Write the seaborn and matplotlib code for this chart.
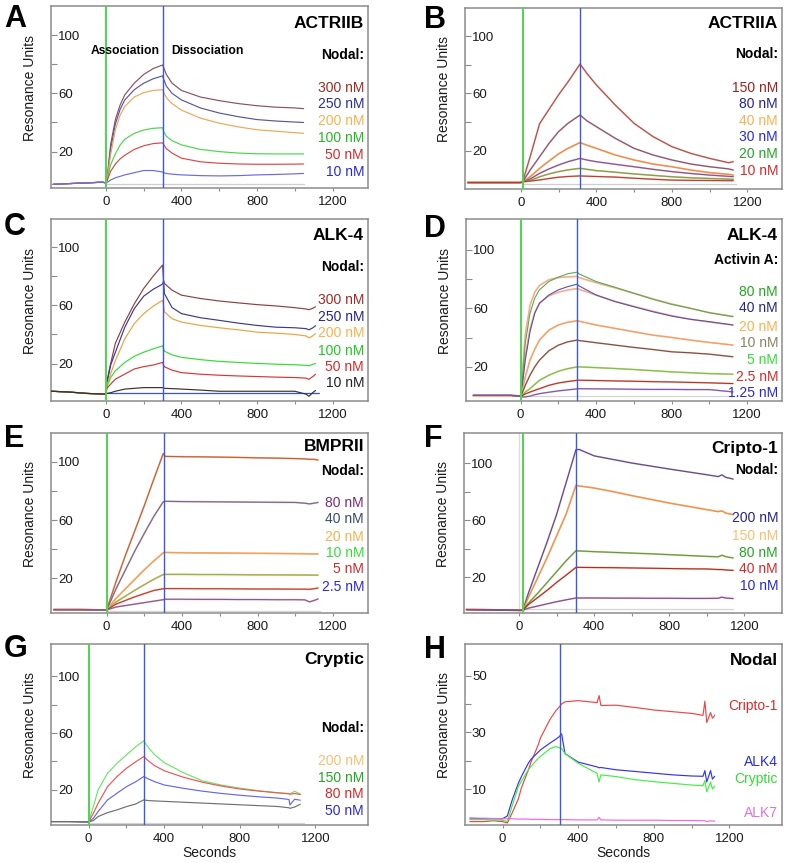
import numpy as np
import pandas as pd
import matplotlib
matplotlib.use("Agg")
import matplotlib.pyplot as plt
import seaborn as sns
from matplotlib.ticker import FixedLocator, FixedFormatter

sns.set_theme(style="white")
plt.rcParams['font.family'] = ['Liberation Sans', 'DejaVu Sans']

# ---------------- DATA ----------------
# Panel A : ACTRIIB, Nodal
A_t = [-280, -200, -100, -20, 0, 8, 25, 50, 75, 100, 150, 200, 250, 300, 305, 320, 350, 400, 500, 600, 700, 800, 900, 1000, 1047]
A_conc = ['300 nM', '250 nM', '200 nM', '100 nM', '50 nM', '10 nM']
A_300 = [-2.5, -2, -1.5, -1, -1.5, 4, 25, 42, 52, 59, 67, 73, 77, 79.5, 78, 73, 67, 62, 57.5, 55, 53, 51.5, 50.5, 50, 49.5]
A_250 = [-2.5, -2, -1.5, -1, -1.5, 3, 22, 39, 49, 55.5, 62.5, 67, 70, 72, 70, 65, 60, 55.5, 50, 46.5, 44, 42, 41, 40.3, 40]
A_200 = [-2.5, -2, -1.5, -1, -1.5, 2.5, 18, 35, 45, 51, 57.5, 60.5, 62, 62.5, 61, 57, 53, 48.5, 43, 39.5, 37, 35, 34, 33, 32.6]
A_100 = [-2.5, -2, -1.5, -1, -1.5, 1.5, 11, 18.5, 24.5, 28.5, 32.5, 34.8, 36, 36.4, 34, 30.5, 27.5, 24.6, 21.5, 20, 19, 18.5, 18.4, 18.4, 18.4]
A_50 = [-2.5, -2, -1.5, -1, -1.5, 0.5, 6.5, 11.5, 15, 17.5, 21.5, 24, 25.5, 26, 25, 22, 19, 15.5, 13, 12, 11.5, 11.3, 11.3, 11.4, 11.5]
A_10 = [-2.5, -2, -1.5, -1, -1.5, -1, 0.5, 2, 3, 4, 5.5, 7, 7, 6, 5.5, 5, 4.5, 4, 3.5, 3.3, 3.5, 4, 4.3, 4.7, 5]
A_ref_t = [0, 1047]
A_ref = [-2.5, -2.5]
A_inject = [0, 300]

# Panel B : ACTRIIA, Nodal
B_t = [-280, -200, -100, 0, 10, 50, 100, 150, 200, 250, 314, 350, 400, 500, 600, 700, 800, 900, 1000, 1100, 1125]
B_conc = ['150 nM', '80 nM', '40 nM', '30 nM', '20 nM', '10 nM']
B_150 = [-2, -2, -2, -2, -1.5, 16, 39, 49, 59, 68, 80.5, 74, 66, 52, 39.2, 30, 23, 18.3, 14.8, 11.8, 12.5]
B_80 = [-2, -2, -2, -2, -1.5, 6.7, 16, 25.3, 33.4, 39.2, 45, 41, 36.9, 28.8, 21.8, 17.2, 13.7, 10.9, 9, 7.5, 6.7]
B_40 = [-2, -2, -2, -2, -1.5, 2, 7.9, 13, 17.9, 21.8, 25.8, 24, 21.8, 17.2, 13.7, 10.9, 9, 6.7, 4.9, 3.7, 3.2]
B_30 = [-2, -2, -2, -2, -1.5, 0.5, 4.4, 7.5, 10.2, 12.5, 14.8, 13.7, 12.5, 10.7, 9, 7.2, 5.6, 4.3, 3.2, 2.3, 2.1]
B_20 = [-2, -2, -2, -2, -1.5, -0.5, 2, 4, 5.6, 6.8, 7.9, 7.2, 6.3, 5.2, 4, 3, 2, 1.3, 0.8, 0.4, 0.2]
B_10 = [-2, -2, -2, -2, -1.5, -1, -0.2, 0.8, 1.7, 2.2, 2.6, 2.4, 2.2, 1.8, 1, 0.3, -0.3, -0.5, -0.6, -0.7, -0.7]
B_ref_t = [10, 1140]
B_ref = [-3, -3]
B_inject = [10, 314]

# Panel C : ALK-4, Nodal
C_t = [-290, -200, -100, 0, 5, 25, 50, 100, 150, 200, 250, 300, 305, 310, 350, 400, 500, 600, 700, 800, 900, 1000, 1060, 1075, 1095, 1110]
C_conc = ['300 nM', '250 nM', '200 nM', '100 nM', '50 nM', '10 nM']
C_300 = [1, 0.5, -0.5, -1, 8, 20, 34, 48.5, 61, 71.6, 80, 87.7, 77, 75, 70.4, 67, 64.7, 63, 61.7, 60.5, 59.6, 58.4, 57.5, 57, 58, 59]
C_250 = [1, 0.5, -0.5, -1, 6, 19, 27.8, 45, 57.7, 66.3, 71, 74.6, 77, 68, 58.5, 54.3, 51.5, 49.7, 47.8, 46.2, 45, 44.6, 44, 43.2, 44.5, 46]
C_200 = [1, 0.5, -0.5, -1, 5, 13, 22, 37, 47.4, 54.3, 59.4, 63.5, 60, 55.5, 50.8, 48.5, 46.2, 44.6, 43.2, 41.6, 40.9, 40, 39, 37.6, 39, 40.5]
C_100 = [1, 0.5, -0.5, -1, 4, 10.4, 15, 20.8, 25, 27.8, 30.1, 32.2, 30, 28.5, 26, 24.3, 22.7, 21.5, 20.8, 20.1, 19.6, 19.2, 18.8, 18.5, 19.5, 20]
C_50 = [1, 0.5, -0.5, -1, 3, 5.9, 9.3, 12.8, 16.3, 17.9, 19, 20.8, 19, 17.8, 15.5, 13.8, 12.7, 12, 11.5, 11.1, 10.7, 10.4, 10, 9.2, 11, 12.7]
C_10 = [1, 0.5, -0.5, -1, -0.5, 0, 1, 2.5, 3, 3.5, 3.5, 3.5, 3.3, 3, 2.8, 2.5, 1.8, 1, 1, 1, 1, 1, -1, -2.5, 0, 1.5]
C_ref_t = [0, 1130]
C_ref = [-0.5, -0.5]
C_inject = [0, 300]

# Panel D : ALK-4, Activin A
D_t = [-250, -150, -50, 0, 10, 25, 50, 75, 100, 150, 200, 250, 300, 310, 400, 500, 600, 700, 800, 900, 1000, 1125]
D_conc = ['80 nM', '40 nM', '20 nM', '10 nM', '5 nM', '2.5 nM', '1.25 nM']
D_80 = [0.5, 0.5, 0.5, 0, 12, 36, 56.6, 66.9, 72.6, 78.3, 81.3, 83.6, 84.7, 83.5, 78.3, 74.4, 70.3, 66.2, 62.7, 60, 57, 54.3]
D_40 = [0.5, 0.5, 0.5, 0, 8, 24.6, 44, 56.6, 63.4, 69.1, 72.6, 74.8, 76.5, 75.3, 69.1, 64.6, 61.1, 57.7, 54.7, 52.5, 50.9, 48.6]
D_20 = [0.5, 0.5, 0.5, 0, 4, 13.1, 24.6, 32, 38.3, 45.1, 48.6, 50.5, 51.5, 51.2, 48.6, 46.3, 44, 41.7, 40.1, 38.3, 36.7, 34.9]
D_10 = [0.5, 0.5, 0.5, 0, 2.5, 7.4, 14.3, 20, 24.6, 31, 34.8, 37.1, 38.3, 38, 36.5, 34.9, 33.3, 31.9, 30.3, 29.6, 28.7, 26.9]
D_5 = [0.5, 0.5, 0.5, 0, 1, 2.8, 5.1, 8, 10.8, 14.3, 17, 18.8, 20, 20, 19.5, 18.9, 18.2, 17.4, 16.6, 16, 15.4, 15]
D_2p5 = [0.5, 0.5, 0.5, 0, 0.5, 1.5, 2.8, 4, 5.1, 7.4, 9, 10, 10.8, 10.9, 10.7, 10.4, 10.2, 9.9, 9.7, 9.4, 9.1, 8.6]
D_1p25 = [0.5, 0.5, 0.5, 0, -0.5, -0.5, 0, 1, 1.7, 2.7, 3.6, 4.3, 5, 5.1, 5, 4.9, 4.7, 4.6, 4.6, 4.5, 4.5, 2.9]
D_fit80 = [0.5, 0.5, 0.5, 0, 18, 42, 62, 71, 75.5, 79.5, 81, 81.5, 81.8, 81, 77.5, 74, 70.3, 66.5, 63, 60, 57, 54.5]
D_fit40 = [0.5, 0.5, 0.5, 0, 10, 27, 46, 57, 63.5, 68.5, 71, 72.5, 73.5, 73, 69, 64.8, 61.3, 58, 55, 52.5, 50.6, 48.6]
D_ref_t = [0, 1130]
D_ref = [0, 0]
D_inject = [0, 300]

# Panel E : BMPRII, Nodal
E_t = [-280, -150, -50, 0, 50, 100, 150, 200, 250, 300, 310, 400, 500, 600, 700, 800, 900, 1000, 1050, 1075, 1100, 1120]
E_conc = ['80 nM', '40 nM', '20 nM', '10 nM', '5 nM', '2.5 nM']
E_80 = [-1.3, -1.3, -1.5, -1.5, 18, 36, 53, 70, 88, 105.5, 103.5, 103.3, 103.2, 103, 102.8, 102.5, 102.3, 102, 101.8, 101.5, 101.5, 101]
E_40 = [-1.3, -1.3, -1.5, -1.5, 13, 26, 39, 51, 62.5, 72.5, 72.8, 72.6, 72.5, 72.4, 72.3, 72.2, 72.1, 72, 71.5, 71, 71.5, 72]
E_20 = [-1.3, -1.3, -1.5, -1.5, 6.5, 13, 19.5, 26, 32, 37.6, 37.8, 37.6, 37.5, 37.4, 37.3, 37.2, 37.1, 37, 36.9, 36.8, 36.8, 36.8]
E_10 = [-1.3, -1.3, -1.5, -1.5, 4, 8, 12, 15.8, 19.5, 22.7, 22.8, 22.8, 22.7, 22.7, 22.6, 22.5, 22.5, 22.4, 22.4, 22.3, 22.3, 22.3]
E_5 = [-1.3, -1.3, -1.5, -1.5, 2.5, 5, 7.5, 9.7, 11.8, 13, 13.1, 13.1, 13, 13, 12.9, 12.8, 12.8, 12.7, 12.7, 12.6, 13, 13.5]
E_2p5 = [-1.3, -1.3, -1.5, -1.5, 0.5, 1.5, 2.5, 3.5, 4.5, 5.5, 5.8, 5.8, 5.7, 5.7, 5.6, 5.6, 5.5, 5.5, 5.4, 4, 5, 6]
E_ref_t = [0, 1130]
E_ref = [-2, -2]
E_inject = [0, 305]

# Panel F : Cripto-1, Nodal
F_t = [-280, -150, 0, 20, 50, 100, 150, 200, 250, 303, 320, 400, 500, 600, 700, 800, 900, 1000, 1060, 1080, 1100, 1140]
F_conc = ['200 nM', '150 nM', '80 nM', '40 nM', '10 nM']
F_200 = [-2.5, -2.7, -3, -3, 9, 27, 45, 64, 86, 109.3, 109.5, 105, 102.5, 100, 97.9, 95.8, 93.8, 91.8, 90.5, 91.7, 90, 88.8]
F_150 = [-2.5, -2.7, -3, -3, 6, 20, 34, 49, 64, 84.4, 84, 82.5, 80, 77.2, 74.6, 72, 69.7, 67.4, 66, 66.5, 65, 63.9]
F_80 = [-2.5, -2.7, -3, -3, 2, 9, 16.5, 24, 31.5, 38.7, 38.5, 38, 37.5, 37, 36.5, 35.9, 35.3, 34.7, 34.4, 35.5, 34.5, 33.6]
F_40 = [-2.5, -2.7, -3, -3, 1, 6, 11, 16.5, 21.5, 27, 27, 26.9, 26.8, 26.6, 26.4, 26.2, 26, 25.9, 25.5, 25.5, 25.2, 24.9]
F_10 = [-2.5, -2.7, -3, -3, -1.5, 0, 1.5, 3, 4.3, 5.6, 5.6, 5.6, 5.5, 5.5, 5.4, 5.4, 5.3, 5.3, 5.4, 6.2, 5.6, 5.2]
F_ref_t = [0, 1140]
F_ref = [-2, -2]
F_inject = [22, 303]
F_zero = 0

# Panel G : Cryptic, Nodal
G_t = [-200, -100, 0, 25, 50, 100, 150, 200, 250, 291, 320, 350, 400, 500, 600, 700, 800, 900, 1000, 1060, 1065, 1090, 1120]
G_conc = ['200 nM', '150 nM', '80 nM', '50 nM']
G_trace_names = ['trace 1', 'trace 2', 'trace 3', 'trace 4']
G_tr1 = [-2.2, -2.2, -2.5, 8.3, 20, 31.7, 38.7, 44.6, 50.4, 54.4, 49.2, 44.6, 39.2, 32.2, 26.5, 23.5, 21.3, 19.5, 18, 17.5, 17.3, 19, 17.2]
G_tr2 = [-2.2, -2.2, -2.5, 3.6, 10.6, 22.3, 29.4, 35.2, 39.9, 43.4, 40, 37, 33.5, 29, 25.5, 22.8, 20.7, 19.2, 18, 17.3, 17, 17.5, 16.8]
G_tr3 = [-2.2, -2.2, -2.5, 0.1, 4.8, 13, 17.7, 22.3, 25.8, 29.4, 27.5, 25.8, 23.5, 21.2, 19.2, 17.6, 16.3, 15.2, 14.3, 13.3, 9.5, 13.5, 12.8]
G_tr4 = [-2.2, -2.2, -2.5, -1.5, 1.3, 4.1, 6, 8.3, 10.2, 13, 12.5, 12.3, 12, 11.4, 10.8, 10.2, 9.6, 9, 8.4, 7.5, 7.1, 8, 10]
G_ref_t = [0, 1140]
G_ref = [-3, -3]
G_inject = [0, 291]

# Panel H : Nodal on different receptors
H_t = [-173, -100, -50, 0, 25, 50, 83, 100, 135, 150, 188, 200, 250, 280, 300, 312, 330, 400, 500, 510, 520, 600, 700, 800, 900, 1000, 1060, 1070, 1080, 1100, 1110, 1122]
H_names = ['Cripto-1', 'ALK4', 'Cryptic', 'ALK7']
H_cripto = [-1.5, -1.5, -1.2, -1.5, -2, 1.5, 6.5, 10.5, 16.5, 19.5, 25.5, 28, 34.5, 37.5, 39, 40, 40.8, 41.2, 40.5, 43, 39.5, 39.6, 38.8, 37.9, 37.3, 36.7, 36, 41, 33.5, 37, 35, 36]
H_alk4 = [-0.3, -0.5, -0.5, -0.5, 0.5, 6, 12, 14.5, 19, 20.5, 23, 23.8, 26.2, 27.5, 28.5, 29.5, 22.5, 19.5, 17.8, 17.5, 17.6, 16.8, 16.2, 15.6, 15, 14.6, 14.5, 16.5, 12.5, 16.5, 13.5, 14.5]
H_cryptic = [-0.8, -0.8, -1, -1, -1.5, 4, 10.8, 12.8, 16.7, 18, 20.8, 21.5, 24.2, 25, 24.6, 24.3, 22.5, 19.1, 15.5, 12.5, 15, 14.4, 13.3, 12.6, 12, 11.4, 11.2, 13, 9, 12.5, 10, 11]
H_alk7 = [-0.3, -0.3, -0.4, -0.5, -0.5, -0.5, -0.6, -0.6, -0.6, -0.7, -0.7, -0.7, -0.8, -0.8, -0.8, -0.8, -0.8, -0.9, -0.9, 0, -0.9, -1, -1, -1, -1.1, -1.1, -1.2, -1.2, -1.5, -1.2, -1.3, -1.3]
H_inject = [303]

# ---------------- FIGURE ----------------
W, H = 785, 863
fig = plt.figure(figsize=(W / 100, H / 100), dpi=100)

GREEN_LINE = '#4cd64c'
BLUE_LINE = '#3a58e0'
FRAME = '#8c8c8c'
TXT = '#1a1a1a'
FIT = '#f3a070'


def add_axes(left, top, right, bottom):
    return fig.add_axes([left / W, 1 - bottom / H, (right - left) / W, (bottom - top) / H])


def ftext(x, y, s, **kw):
    fig.text(x / W, 1 - y / H, s, **kw)


def long_df(t, names, values):
    parts = [pd.DataFrame({'t': t, 'v': vals, 'series': n}) for n, vals in zip(names, values)]
    return pd.concat(parts, ignore_index=True)


def draw_curves(ax, t, names, values, colors, lw=0.85, alpha=1.0, z=3):
    df = long_df(t, names, values)
    sns.lineplot(data=df, x='t', y='v', hue='series', hue_order=names,
                 palette=dict(zip(names, colors)), estimator=None, sort=False,
                 legend=False, linewidth=lw, alpha=alpha, ax=ax, zorder=z)


def draw_ref(ax, t, v, color):
    sns.lineplot(x=t, y=v, color=color, linewidth=0.9, ax=ax, zorder=1, estimator=None)


def style_axes(ax, xlim, ylim, yticks, ylabels, xlabel=''):
    ax.set_xlim(xlim)
    ax.set_ylim(ylim)
    ax.xaxis.set_major_locator(FixedLocator([0, 200, 400, 600, 800, 1000, 1200]))
    ax.xaxis.set_major_formatter(FixedFormatter(['0', '', '400', '', '800', '', '1200']))
    ax.yaxis.set_major_locator(FixedLocator(yticks))
    ax.yaxis.set_major_formatter(FixedFormatter(ylabels))
    ax.tick_params(axis='x', direction='out', length=2.5, width=0.8, color=FRAME,
                   pad=3, labelsize=9.5, labelcolor=TXT, bottom=True)
    ax.tick_params(axis='y', direction='in', length=4, width=0.8, color=FRAME,
                   pad=-5, labelsize=9.5, labelcolor=TXT, left=True)
    for lab in ax.get_yticklabels():
        lab.set_horizontalalignment('left')
    for s in ax.spines.values():
        s.set_color(FRAME)
        s.set_linewidth(1.1)
    ax.set_ylabel('Resonance Units', fontsize=10, color=TXT)
    ax.yaxis.set_label_coords(-0.043, 0.55)
    ax.set_xlabel(xlabel, fontsize=10, color=TXT, labelpad=1)
    ax.grid(False)


def inject_lines(ax, times, green=True):
    if green:
        ax.axvline(times[0], color=GREEN_LINE, linewidth=1.4, zorder=5)
        ax.axvline(times[1], color=BLUE_LINE, linewidth=1.0, zorder=5)
    else:
        ax.axvline(times[0], color=BLUE_LINE, linewidth=1.0, zorder=5)


def labels(xr, title, title_y, head, head_y, names, ys, colors):
    ftext(xr, title_y, title, ha='right', va='center', fontsize=12.5, fontweight='bold', color='black')
    if head:
        ftext(xr, head_y, head, ha='right', va='center', fontsize=10, fontweight='bold', color='black')
    for n, y, c in zip(names, ys, colors):
        ftext(xr, y, n, ha='right', va='center', fontsize=10, color=c)


XL_TOP = (-291, 1388)
XL_BOT = (-199, 1478)
Y5 = [20, 40, 60, 80, 100]
Y5L = ['20', '', '60', '', '100']
LXR, RXR = 364, 778

# ---- A ----
axA = add_axes(51, 6, 368, 188)
draw_ref(axA, A_ref_t, A_ref, '#cfcfcf')
draw_curves(axA, A_t, A_conc, [A_300, A_250, A_200, A_100, A_50, A_10],
            ['#8e5060', '#5656a6', '#f2a558', '#4ad64a', '#e04646', '#6a6ae6'])
inject_lines(axA, A_inject)
style_axes(axA, XL_TOP, (-5, 120), Y5, Y5L)
labels(LXR, 'ACTRIIB', 23, 'Nodal:', 55, A_conc, [88, 104.3, 121.3, 138.3, 155, 171.7],
       ['#9e2b25', '#2b2f8f', '#f6b24e', '#22b822', '#d42a2a', '#2a2ad4'])
ftext(125, 51, 'Association', ha='center', va='center', fontsize=8.7, fontweight='bold', color='black')
ftext(207, 51, 'Dissociation', ha='center', va='center', fontsize=8.7, fontweight='bold', color='black')

# ---- B ----
axB = add_axes(465, 8, 782, 189)
draw_ref(axB, B_ref_t, B_ref, '#cfcfcf')
Bv = [B_150, B_80, B_40, B_30, B_20, B_10]
draw_curves(axB, B_t, B_conc, Bv, [FIT] * 6, lw=1.3, alpha=0.75, z=2)
draw_curves(axB, B_t, B_conc, Bv, ['#a8505a', '#75558f', '#ee8a40', '#7a50b0', '#6aa84a', '#b04040'], lw=0.8)
inject_lines(axB, B_inject)
style_axes(axB, (-295, 1383), (-6.5, 119.5), Y5, Y5L)
labels(RXR, 'ACTRIIA', 23, 'Nodal:', 54, B_conc, [88, 103.7, 120.7, 137.3, 154.3, 171.3],
       ['#9e2020', '#25258a', '#f6b24e', '#2a2ad4', '#22a622', '#d42a2a'])

# ---- C ----
axC = add_axes(51, 219, 368, 401)
draw_ref(axC, C_ref_t, C_ref, '#3a50e0')
draw_curves(axC, C_t, C_conc, [C_300, C_250, C_200, C_100, C_50, C_10],
            ['#8c4040', '#3a3a90', '#f0a040', '#33dd33', '#dd3333', '#333333'])
inject_lines(axC, C_inject)
style_axes(axC, XL_TOP, (-5.7, 119.3), Y5, Y5L)
labels(LXR, 'ALK-4', 236, 'Nodal:', 266.7, C_conc, [300, 316.7, 333.3, 350.7, 366.7, 383.3],
       ['#9e2b25', '#25258a', '#f6b24e', '#22c822', '#d42a2a', '#222222'])

# ---- D ----
axD = add_axes(466, 219, 782, 401)
draw_ref(axD, D_ref_t, D_ref, '#d5d5d5')
draw_curves(axD, D_t, D_conc[:2], [D_fit80, D_fit40], ['#f5ad85'] * 2, lw=1.2, z=2)
draw_curves(axD, D_t, D_conc[2:], [D_20, D_10, D_5, D_2p5, D_1p25], ['#f5ad85'] * 5, lw=1.3, alpha=0.75, z=2)
draw_curves(axD, D_t, D_conc, [D_80, D_40, D_20, D_10, D_5, D_2p5, D_1p25],
            ['#5aa85a', '#5a50b0', '#f0a060', '#705050', '#66cc44', '#b03030', '#6a5ad0'], lw=0.8)
inject_lines(axD, D_inject)
style_axes(axD, (-289, 1385), (-3.3, 121), Y5, Y5L)
labels(RXR, 'ALK-4', 236, 'Activin A:', 260, D_conc, [291.7, 308.3, 326.7, 343.3, 360, 376.7, 392.7],
       ['#22a622', '#25258a', '#f6b24e', '#8b8462', '#33dd33', '#d42a2a', '#2a2ad4'])

# ---- E ----
axE = add_axes(51, 433, 368, 613)
draw_ref(axE, E_ref_t, E_ref, '#d5d5d5')
Ev = [E_80, E_40, E_20, E_10, E_5, E_2p5]
draw_curves(axE, E_t, E_conc, Ev, [FIT] * 6, lw=1.3, alpha=0.75, z=2)
draw_curves(axE, E_t, E_conc, Ev, ['#c0603a', '#6a6aa0', '#f0a050', '#8ab84a', '#c03a3a', '#7a5ab0'], lw=0.8)
inject_lines(axE, E_inject)
style_axes(axE, (-295, 1385), (-3.6, 119.5), Y5, Y5L)
labels(LXR, 'BMPRII', 446.7, 'Nodal:', 470.7, E_conc, [502.7, 519, 536.7, 553.3, 569.3, 586.7],
       ['#7a2a78', '#3a4a70', '#f6b24e', '#33dd33', '#d42a2a', '#2a2ad4'])

# ---- F ----
axF = add_axes(464, 433, 782, 613)
axF.axvline(F_zero, color='#dcdcdc', linewidth=1.0, zorder=1)
draw_ref(axF, F_ref_t, F_ref, '#d5d5d5')
Fv = [F_200, F_150, F_80, F_40, F_10]
draw_curves(axF, F_t, F_conc, Fv, [FIT] * 5, lw=1.3, alpha=0.75, z=2)
draw_curves(axF, F_t, F_conc, Fv, ['#4a4ab0', '#f09040', '#44aa44', '#b02a2a', '#7a4ab0'], lw=0.8)
inject_lines(axF, F_inject)
style_axes(axF, (-293, 1400), (-4.9, 121), Y5, Y5L)
labels(RXR, 'Cripto-1', 448.3, 'Nodal:', 470, F_conc, [518.3, 535.7, 553.3, 569.3, 586],
       ['#25258a', '#f8c070', '#22a622', '#d42a2a', '#2a2ad4'])

# ---- G ----
axG = add_axes(51, 644, 368, 825)
draw_ref(axG, G_ref_t, G_ref, '#d5d5d5')
draw_curves(axG, G_t, G_trace_names, [G_tr1, G_tr2, G_tr3, G_tr4],
            ['#66e866', '#ee5555', '#6666ee', '#707070'])
inject_lines(axG, G_inject)
style_axes(axG, XL_BOT, (-4.6, 122.5), Y5, Y5L, xlabel='Seconds')
labels(LXR, 'Cryptic', 659.3, 'Nodal:', 727.7, G_conc, [761, 777.5, 794, 811],
       ['#f8c070', '#22a622', '#d42a2a', '#2a2ad4'])

# ---- H ----
axH = add_axes(465, 644, 782, 825)
draw_curves(axH, H_t, H_names, [H_cripto, H_alk4, H_cryptic, H_alk7],
            ['#ee4444', '#3333ee', '#44ee44', '#ee66ee'])
inject_lines(axH, H_inject, green=False)
style_axes(axH, XL_BOT, (-2.7, 61.2), [10, 20, 30, 40, 50], ['10', '', '30', '', '50'], xlabel='Seconds')
ftext(RXR, 660, 'Nodal', ha='right', va='center', fontsize=12.5, fontweight='bold', color='black')
for n, y, c in zip(H_names, [706, 761.7, 779, 812.7], ['#e02a2a', '#2a2ae0', '#33dd33', '#e070e0']):
    ftext(RXR, y, n, ha='right', va='center', fontsize=10, color=c)

# ---- panel letters ----
for letter, x, y in [('A', 4, 27), ('B', 424, 28), ('C', 4, 235), ('D', 424, 236.7),
                     ('E', 4, 446.7), ('F', 424, 446.7), ('G', 4, 656.7), ('H', 424, 658.3)]:
    ftext(x, y, letter, ha='left', va='baseline', fontsize=22, fontweight='bold', color='black')

fig.savefig('out.png', dpi=100)
